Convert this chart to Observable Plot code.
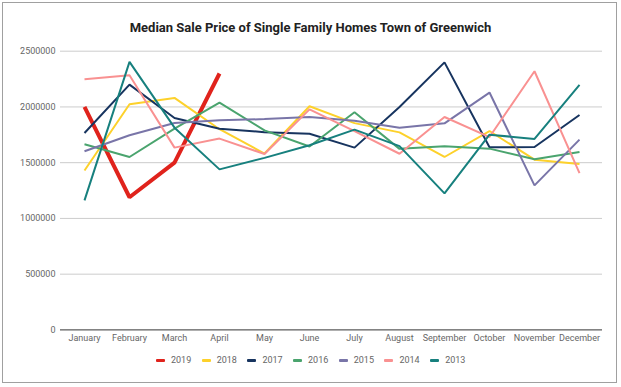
<!DOCTYPE html>
<html>
<head>
<meta charset="utf-8">
<script src="https://cdn.jsdelivr.net/npm/d3@7"></script>
<script src="https://cdn.jsdelivr.net/npm/@observablehq/plot@0.6"></script>
<style>
  html, body { margin: 0; padding: 0; background: #fff; }
  #wrap { position: relative; width: 621px; height: 387px; font-family: Roboto, "Noto Sans", sans-serif; }
  #frame { position: absolute; left: 2px; top: 2px; width: 615px; height: 381px; border: 1px solid #a0a0a0; box-sizing: border-box; pointer-events: none; }
  #title { height: 40px; line-height: 16px; padding-top: 20px; box-sizing: border-box; text-align: center; font-weight: bold; font-size: 13px; color: #222; }
  #chart svg { display: block; }
  #legend { display: flex; justify-content: flex-start; padding-left: 156px; height: 35px; box-sizing: border-box; padding-top: 2px; font-size: 9px; color: #666; }
  .item { display: flex; align-items: center; width: 45.7px; height: 12px; }
  .sw { width: 9px; height: 3px; border-radius: 1px; margin-right: 6px; }
</style>
</head>
<body>
<div id="wrap">
  <div id="title">Median Sale Price of Single Family Homes Town of Greenwich</div>
  <div id="chart"></div>
  <div id="legend"></div>
  <div id="frame"></div>
</div>
<script>
const months = ["January","February","March","April","May","June","July","August","September","October","November","December"];
const years = ["2019","2018","2017","2016","2015","2014","2013"];
const colors = ["#e0231c","#fdd12b","#17345f","#4aa46e","#7975a8","#f99191","#17807e"];
const yTicks = [0, 500000, 1000000, 1500000, 2000000, 2500000];

const s2019 = [2000000, 1190000, 1500000, 2300000];
const s2018 = [1430000, 2024000, 2081000, 1800000, 1582000, 2006000, 1855000, 1772000, 1551000, 1784000, 1527000, 1488000];
const s2017 = [1766000, 2200000, 1901000, 1805000, 1774000, 1760000, 1635000, 2000000, 2400000, 1638000, 1641000, 1928000];
const s2016 = [1665000, 1551000, 1806000, 2039000, 1790000, 1645000, 1952000, 1624000, 1648000, 1626000, 1530000, 1596000];
const s2015 = [1602000, 1746000, 1856000, 1880000, 1891000, 1910000, 1876000, 1813000, 1853000, 2129000, 1296000, 1707000];
const s2014 = [2248000, 2284000, 1635000, 1716000, 1578000, 1978000, 1783000, 1580000, 1910000, 1730000, 2320000, 1407000];
const s2013 = [1162000, 2404000, 1814000, 1440000, 1543000, 1656000, 1797000, 1648000, 1225000, 1751000, 1713000, 2198000];

const seriesList = [s2019, s2018, s2017, s2016, s2015, s2014, s2013];
const rows = [];
seriesList.forEach((s, i) => s.forEach((v, j) => rows.push({year: years[i], month: months[j], value: v})));

const marks = [
  Plot.ruleY(yTicks.filter(d => d > 0), {stroke: "#cccccc", strokeWidth: 1}),
  Plot.ruleY([0], {stroke: "#333333", strokeWidth: 1}),
  Plot.axisY(yTicks, {tickSize: 0, tickPadding: 5, tickFormat: d => String(d), fontSize: 9, fill: "#666", label: null}),
  Plot.axisX({tickSize: 0, tickPadding: 5, fontSize: 9, fill: "#666", label: null})
];
years.forEach((y, i) => {
  marks.push(Plot.line(rows.filter(r => r.year === y), {
    x: "month", y: "value", stroke: colors[i],
    strokeWidth: y === "2019" ? 4 : 2, strokeLinejoin: "miter", strokeLinecap: "butt"
  }));
});

const chart = Plot.plot({
  width: 621,
  height: 312,
  marginLeft: 60,
  marginRight: 19,
  marginTop: 10.7,
  marginBottom: 22.6,
  style: {fontFamily: "Roboto, 'Noto Sans', sans-serif", background: "white", overflow: "visible"},
  x: {type: "point", domain: months, padding: 0.5},
  y: {domain: [0, 2500000]},
  marks
});
document.getElementById("chart").appendChild(chart);

const legend = document.getElementById("legend");
years.forEach((y, i) => {
  const it = document.createElement("div");
  it.className = "item";
  const sw = document.createElement("span");
  sw.className = "sw";
  sw.style.background = colors[i];
  const tx = document.createElement("span");
  tx.textContent = y;
  it.appendChild(sw);
  it.appendChild(tx);
  legend.appendChild(it);
});
</script>
</body>
</html>
